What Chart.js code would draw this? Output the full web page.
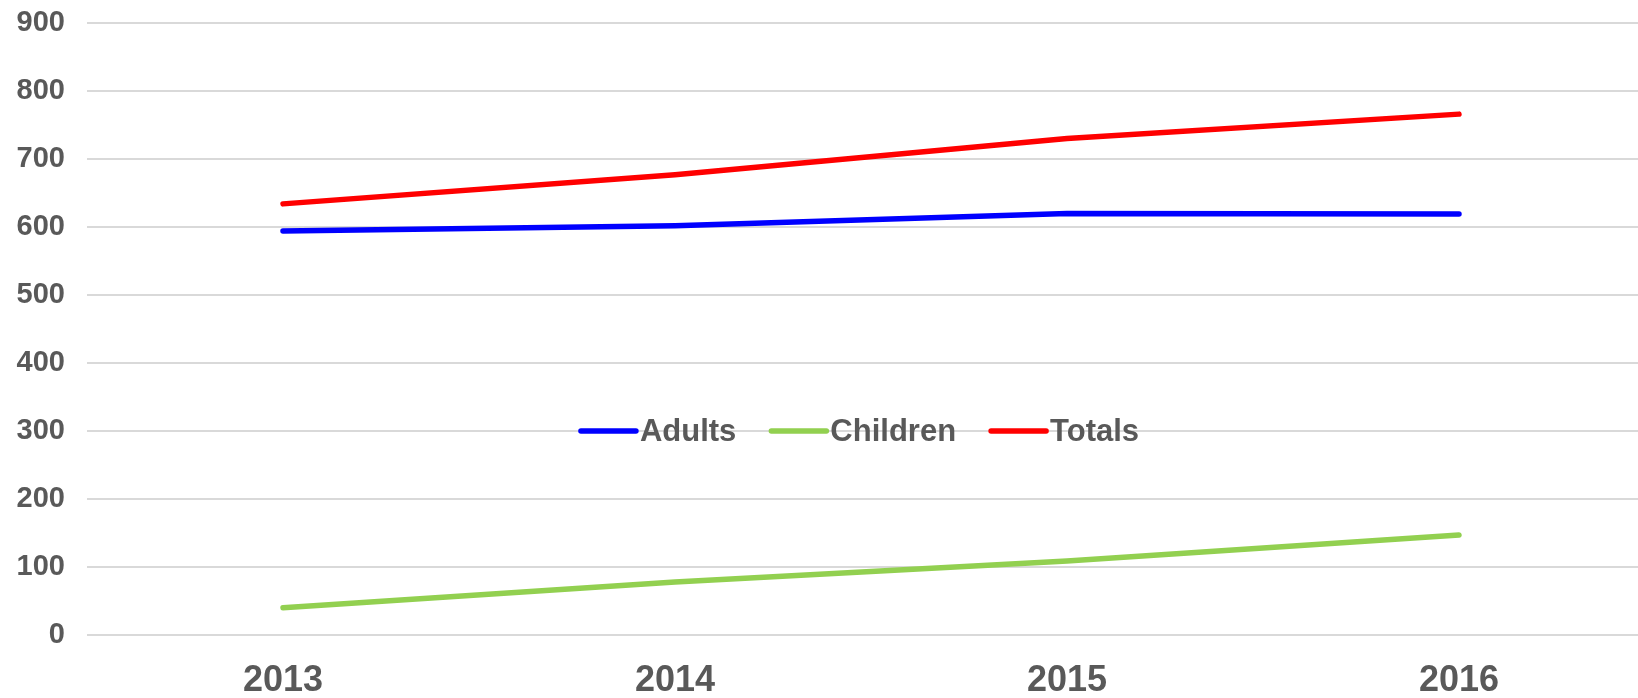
<!DOCTYPE html>
<html>
<head>
<meta charset="utf-8">
<script src="https://cdn.jsdelivr.net/npm/chart.js@4/dist/chart.umd.min.js"></script>
<style>
  html, body { margin: 0; padding: 0; background: #fff; overflow: hidden; }
  #wrap { position: relative; width: 1655px; height: 698px; }
</style>
</head>
<body>
<div id="wrap"><canvas id="chart"></canvas></div>
<script>
  // Data
  const years = ['2013', '2014', '2015', '2016'];
  const adults = [594, 602, 620, 619];
  const children = [40, 78, 109, 147];
  const totals = [634, 677, 730, 766];

  const yTicks = [0, 100, 200, 300, 400, 500, 600, 700, 800, 900];

  const colors = {
    adults: '#0000ff',
    children: '#92d050',
    totals: '#ff0000',
    text: '#595959',
    grid: '#d9d9d9'
  };

  const fontFamily = '"Liberation Sans", Arial, sans-serif';

  // Legend drawn inside the plot, sitting on the 300 gridline
  const middleLegend = {
    id: 'middleLegend',
    afterDatasetsDraw(chart, args, opts) {
      const ctx = chart.ctx;
      const y = chart.scales.y.getPixelForValue(opts.atValue);
      ctx.save();
      ctx.font = `bold ${opts.fontSize}px ${fontFamily}`;
      ctx.textBaseline = 'middle';
      const items = chart.data.datasets.map(ds => ({
        label: ds.label,
        color: ds.borderColor,
        w: opts.lineLen + opts.textGap + ctx.measureText(ds.label).width
      }));
      const total = items.reduce((s, it) => s + it.w, 0) + opts.itemGap * (items.length - 1);
      let x = opts.centerX - total / 2;
      items.forEach(it => {
        ctx.strokeStyle = it.color;
        ctx.lineWidth = 5.5;
        ctx.lineCap = 'round';
        ctx.beginPath();
        ctx.moveTo(x, y);
        ctx.lineTo(x + opts.lineLen, y);
        ctx.stroke();
        ctx.fillStyle = colors.text;
        ctx.fillText(it.label, x + opts.lineLen + opts.textGap, y + 1);
        x += it.w + opts.itemGap;
      });
      ctx.restore();
    }
  };

  function lineSet(label, data, color) {
    return {
      label: label,
      data: data,
      borderColor: color,
      backgroundColor: color,
      borderWidth: 5.5,
      pointRadius: 0,
      pointHoverRadius: 0,
      tension: 0,
      fill: false,
      borderCapStyle: 'round'
    };
  }

  new Chart(document.getElementById('chart').getContext('2d'), {
    type: 'line',
    data: {
      labels: years,
      datasets: [
        lineSet('Adults', adults, colors.adults),
        lineSet('Children', children, colors.children),
        lineSet('Totals', totals, colors.totals)
      ]
    },
    options: {
      responsive: true,
      maintainAspectRatio: false,
      animation: false,
      layout: { padding: { top: 23, right: 0, left: 0, bottom: 0 } },
      scales: {
        x: {
          offset: true,
          grid: { display: false, drawTicks: false },
          border: { display: false },
          ticks: {
            color: colors.text,
            padding: 24,
            font: { family: fontFamily, size: 36, weight: 'bold' }
          },
          afterFit(scale) {
            scale.height = 63;
            scale.paddingLeft = 0;
            scale.paddingRight = 0;
          }
        },
        y: {
          min: 0,
          max: 900,
          afterBuildTicks(scale) { scale.ticks = yTicks.map(v => ({ value: v })); },
          grid: { color: colors.grid, lineWidth: 2, drawTicks: false },
          border: { display: false },
          ticks: {
            color: colors.text,
            padding: 22,
            font: { family: fontFamily, size: 29, weight: 'bold' }
          },
          afterFit(scale) {
            scale.width = 87;
            scale.paddingTop = 0;
            scale.paddingBottom = 0;
          }
        }
      },
      plugins: {
        legend: { display: false },
        tooltip: { enabled: false },
        middleLegend: {
          atValue: 300,
          centerX: 860,
          fontSize: 31,
          lineLen: 55,
          textGap: 4,
          itemGap: 35
        }
      }
    },
    plugins: [middleLegend]
  });
</script>
</body>
</html>
